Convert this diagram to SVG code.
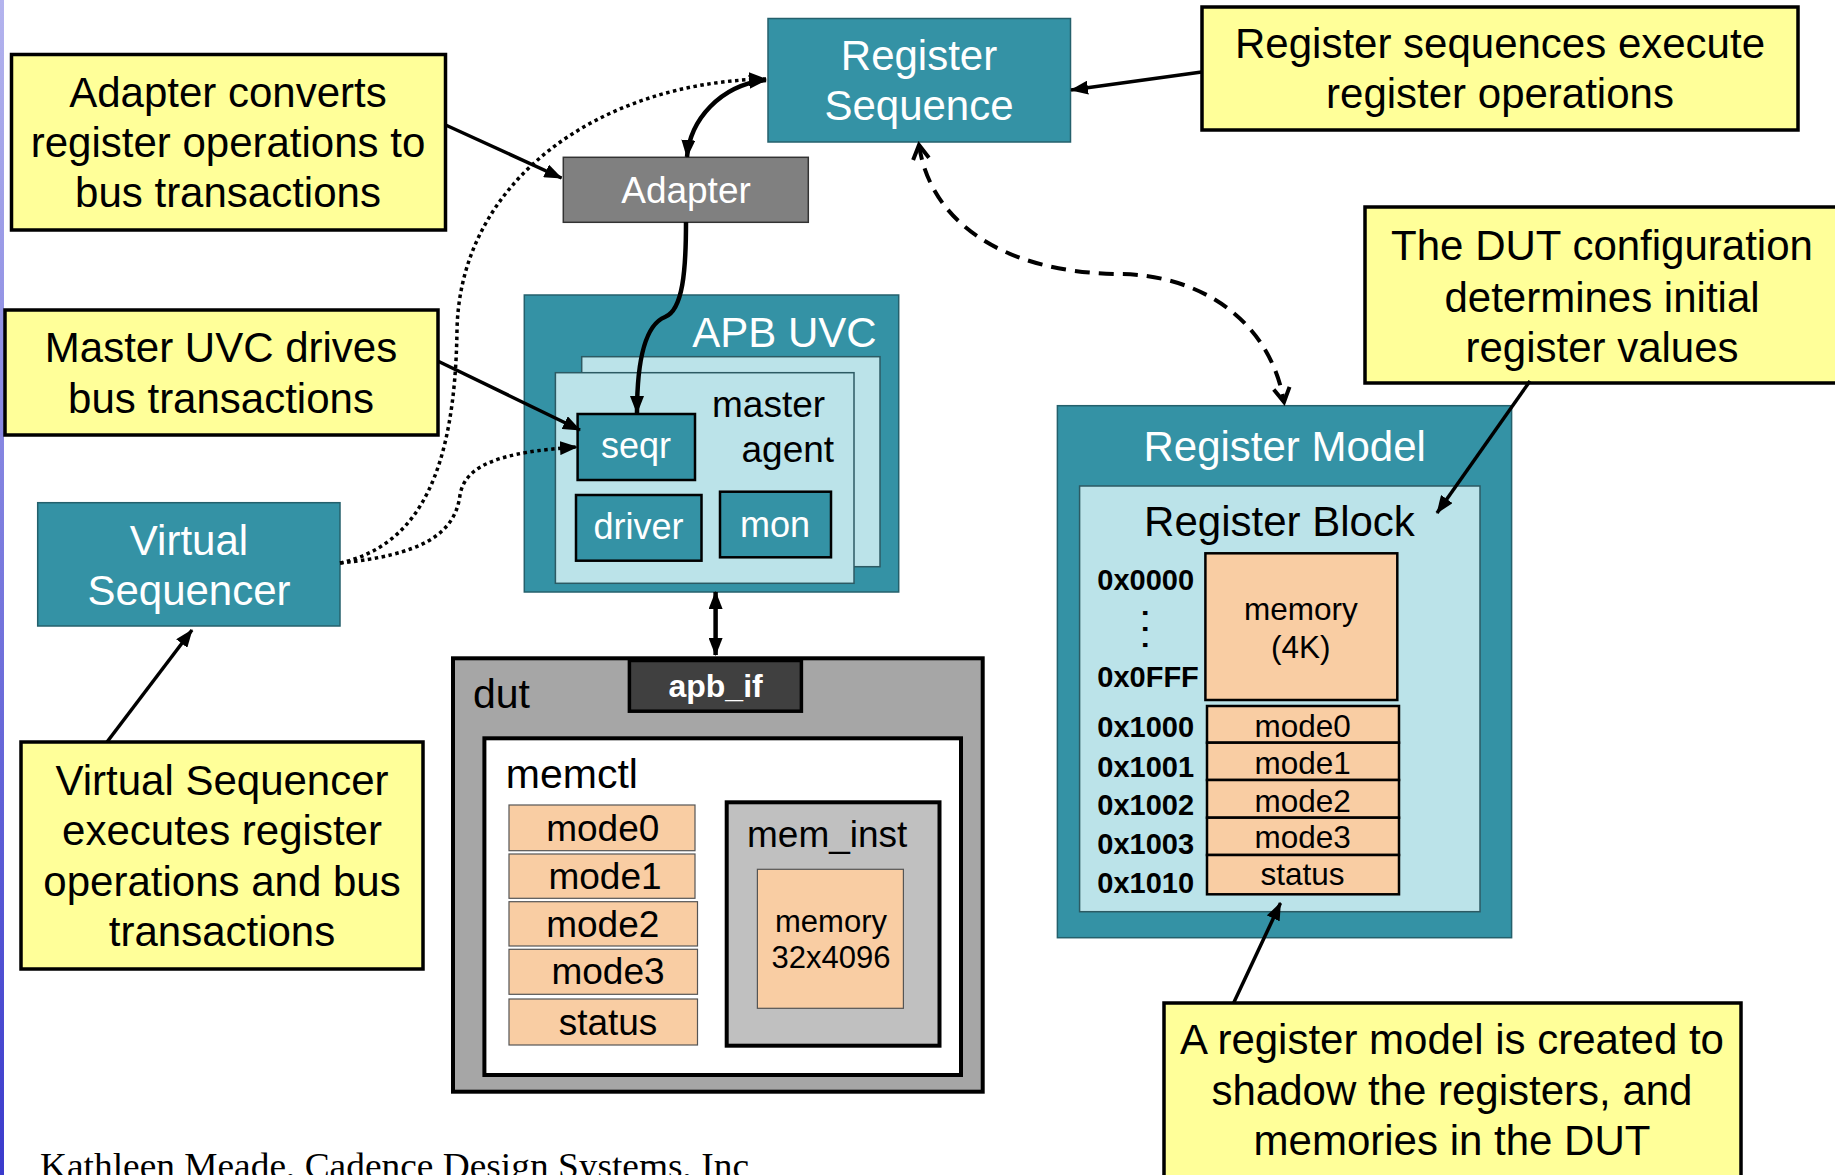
<svg xmlns="http://www.w3.org/2000/svg" width="1835" height="1175" viewBox="0 0 1835 1175">
  <defs>
    <linearGradient id="edgeBar" x1="0" y1="0" x2="0" y2="1">
      <stop offset="0" stop-color="#b4b4ee"/>
      <stop offset="1" stop-color="#3a3acc"/>
    </linearGradient>
    <marker id="arrowSolid" viewBox="0 0 18 14" refX="17" refY="7" markerWidth="18" markerHeight="14" markerUnits="userSpaceOnUse" orient="auto-start-reverse">
      <path d="M0,0 L18,7 L0,14 z" fill="#000"/>
    </marker>
    <marker id="arrowOpen" viewBox="-3 -3 22 24" refX="14" refY="8" markerWidth="22" markerHeight="24" markerUnits="userSpaceOnUse" orient="auto-start-reverse">
      <path d="M0,0 L14,8 L0,16" fill="none" stroke="#000" stroke-width="4" stroke-linejoin="miter"/>
    </marker>
    <style>
      text { font-family: "Liberation Sans", Arial, sans-serif; }
      .callout rect { fill: #ffff99; stroke: #000; stroke-width: 3.5; }
      .callout text { font-size: 42px; fill: #000; text-anchor: middle; }
      .teal { fill: #3492a5; stroke: #24606c; stroke-width: 1.5; }
      .light { fill: #bbe3e9; stroke: #2c5a63; stroke-width: 1.5; }
      .sub { fill: #3492a5; stroke: #000; stroke-width: 2.5; }
      .peach { fill: #f9cda3; stroke: #000; stroke-width: 2.5; }
      .peachThin { fill: #f9cda3; stroke: #555; stroke-width: 1.2; }
      .w42 { font-size: 42px; fill: #fff; text-anchor: middle; }
      .w36 { font-size: 36px; fill: #fff; text-anchor: middle; }
      .b37 { font-size: 37px; fill: #000; }
      .b41 { font-size: 41px; fill: #000; }
      .reg { font-size: 31.5px; fill: #000; text-anchor: middle; }
      .addr { font-size: 29px; font-weight: bold; fill: #000; }
      .conn { fill: none; stroke: #000; }
      .pointer { stroke-width: 3.5; marker-end: url(#arrowSolid); }
      .thick { stroke-width: 4.5; }
      .dotted { stroke-width: 3.5; stroke-dasharray: 3.5 3.5; marker-end: url(#arrowSolid); }
      .dashed { stroke-width: 4; stroke-dasharray: 15 9; marker-start: url(#arrowOpen); marker-end: url(#arrowOpen); }
    </style>
  </defs>

  <rect x="0" y="0" width="1835" height="1175" fill="#fff"/>
  <rect x="0" y="0" width="4" height="1175" fill="url(#edgeBar)"/>

  <!-- explanatory callouts -->
  <g id="note-adapter" class="callout">
    <rect x="11.5" y="54.5" width="434" height="175.5"/>
    <text x="228" y="107">Adapter converts</text>
    <text x="228" y="157">register operations to</text>
    <text x="228" y="207">bus transactions</text>
  </g>
  <g id="note-master-uvc" class="callout">
    <rect x="5" y="310" width="433" height="125"/>
    <text x="221" y="362">Master UVC drives</text>
    <text x="221" y="413">bus transactions</text>
  </g>
  <g id="note-virtual-sequencer" class="callout">
    <rect x="21" y="742" width="402" height="227"/>
    <text x="222" y="795">Virtual Sequencer</text>
    <text x="222" y="845">executes register</text>
    <text x="222" y="896">operations and bus</text>
    <text x="222" y="946">transactions</text>
  </g>
  <g id="note-register-sequences" class="callout">
    <rect x="1202" y="7" width="596" height="123"/>
    <text x="1500" y="58">Register sequences execute</text>
    <text x="1500" y="108">register operations</text>
  </g>
  <g id="note-dut-config" class="callout">
    <rect x="1365" y="207" width="520" height="176"/>
    <text x="1602" y="260">The DUT configuration</text>
    <text x="1602" y="312">determines initial</text>
    <text x="1602" y="362">register values</text>
  </g>
  <g id="note-register-model" class="callout">
    <rect x="1164" y="1003" width="577" height="220"/>
    <text x="1452" y="1054">A register model is created to</text>
    <text x="1452" y="1105">shadow the registers, and</text>
    <text x="1452" y="1155">memories in the DUT</text>
  </g>

  <!-- testbench components -->
  <g id="register-sequence">
    <rect class="teal" x="768" y="18.5" width="302.5" height="123.5"/>
    <text class="w42" x="919" y="70">Register</text>
    <text class="w42" x="919" y="120">Sequence</text>
  </g>
  <g id="adapter">
    <rect x="563.3" y="157.3" width="245" height="65" fill="#808080" stroke="#333" stroke-width="1.5"/>
    <text x="686" y="202.7" font-size="37" fill="#fff" text-anchor="middle">Adapter</text>
  </g>
  <g id="virtual-sequencer">
    <rect class="teal" x="37.7" y="502.7" width="302.3" height="123.3"/>
    <text class="w42" x="189" y="555">Virtual</text>
    <text class="w42" x="189" y="605">Sequencer</text>
  </g>
  <g id="apb-uvc">
    <rect class="teal" x="524.3" y="295" width="374.4" height="297"/>
    <text x="876.6" y="346.7" font-size="42" fill="#fff" text-anchor="end">APB UVC</text>
    <rect class="light" x="581.7" y="356.7" width="298.3" height="210"/>
    <g id="master-agent">
      <rect class="light" x="555.4" y="372.7" width="298.6" height="210.6"/>
      <text class="b37" x="712" y="416.7">master</text>
      <text class="b37" x="741.5" y="461.7">agent</text>
      <g id="seqr">
        <rect class="sub" x="577.6" y="414" width="117.4" height="66"/>
        <text class="w36" x="636" y="458">seqr</text>
      </g>
      <g id="driver">
        <rect class="sub" x="576" y="495" width="125.5" height="65.7"/>
        <text class="w36" x="638.6" y="539.3">driver</text>
      </g>
      <g id="mon">
        <rect class="sub" x="720" y="491.7" width="111" height="65.6"/>
        <text class="w36" x="775" y="536.7">mon</text>
      </g>
    </g>
  </g>

  <!-- design under test -->
  <g id="dut">
    <rect x="453" y="658.3" width="529.7" height="433.4" fill="#a6a6a6" stroke="#000" stroke-width="4"/>
    <text class="b41" x="473" y="708.3">dut</text>
    <g id="apb-if">
      <rect x="629.4" y="660.5" width="172" height="50.7" fill="#404040" stroke="#000" stroke-width="3.5"/>
      <text x="715.6" y="696.7" font-size="32" font-weight="bold" fill="#fff" text-anchor="middle">apb_if</text>
    </g>
    <g id="memctl">
      <rect x="484.4" y="738.3" width="476.6" height="336.7" fill="#fff" stroke="#000" stroke-width="4"/>
      <text class="b41" x="505.8" y="788.3">memctl</text>
      <rect class="peachThin" x="509" y="805" width="186" height="45.7"/>
      <text class="b37" x="602.8" y="841" text-anchor="middle">mode0</text>
      <rect class="peachThin" x="509" y="854" width="186" height="44.3"/>
      <text class="b37" x="605" y="889" text-anchor="middle">mode1</text>
      <rect class="peachThin" x="509" y="901.7" width="188.5" height="44.3"/>
      <text class="b37" x="602.8" y="936.7" text-anchor="middle">mode2</text>
      <rect class="peachThin" x="509" y="949.3" width="188.5" height="45"/>
      <text class="b37" x="608" y="984.3" text-anchor="middle">mode3</text>
      <rect class="peachThin" x="509" y="999" width="188.5" height="46"/>
      <text class="b37" x="608" y="1035" text-anchor="middle">status</text>
      <g id="mem-inst">
        <rect x="726.7" y="802.3" width="212.8" height="243.4" fill="#c0c0c0" stroke="#000" stroke-width="4"/>
        <text class="b37" x="747" y="847.3">mem_inst</text>
        <rect class="peachThin" x="757.4" y="869.3" width="146" height="139"/>
        <text x="831" y="931.7" font-size="31" text-anchor="middle">memory</text>
        <text x="831" y="968.3" font-size="31" text-anchor="middle">32x4096</text>
      </g>
    </g>
  </g>

  <!-- register model -->
  <g id="register-model">
    <rect class="teal" x="1057.4" y="405.7" width="454.2" height="532"/>
    <text class="w42" x="1284.7" y="461">Register Model</text>
    <g id="register-block">
      <rect class="light" x="1079.6" y="486" width="400.4" height="425.7"/>
      <text x="1279.5" y="536" font-size="42" fill="#000" text-anchor="middle">Register Block</text>
      <rect class="peach" x="1205.4" y="553.3" width="191.9" height="146.7" stroke-width="3"/>
      <text class="reg" x="1300.8" y="620">memory</text>
      <text class="reg" x="1300.8" y="658.3">(4K)</text>
      <text class="addr" x="1097.3" y="590">0x0000</text>
      <!-- vertical ellipsis between the memory bounds -->
      <text class="addr" transform="translate(1142.7,609) rotate(90)" letter-spacing="8">...</text>
      <text class="addr" x="1097.3" y="686.7">0x0FFF</text>
      <rect class="peach" x="1207" y="706" width="192" height="36.7"/>
      <text class="reg" x="1302.6" y="736.7">mode0</text>
      <rect class="peach" x="1207" y="742.7" width="192" height="37.3"/>
      <text class="reg" x="1302.6" y="774.3">mode1</text>
      <rect class="peach" x="1207" y="780" width="192" height="37.7"/>
      <text class="reg" x="1302.6" y="811.7">mode2</text>
      <rect class="peach" x="1207" y="817.7" width="192" height="37.3"/>
      <text class="reg" x="1302.6" y="848.3">mode3</text>
      <rect class="peach" x="1207" y="855" width="192" height="39.3"/>
      <text class="reg" x="1302.6" y="885">status</text>
      <text class="addr" x="1097.3" y="736.7">0x1000</text>
      <text class="addr" x="1097.3" y="776.7">0x1001</text>
      <text class="addr" x="1097.3" y="815">0x1002</text>
      <text class="addr" x="1097.3" y="854">0x1003</text>
      <text class="addr" x="1097.3" y="893.3">0x1010</text>
    </g>
  </g>

  <!-- connectors -->
  <g id="connectors">
    <line class="conn pointer" x1="445.6" y1="125" x2="561.5" y2="178"/>
    <line class="conn pointer" x1="437.7" y1="361" x2="580" y2="430"/>
    <line class="conn pointer" x1="107" y1="742" x2="192" y2="630"/>
    <line class="conn pointer" x1="1201.7" y1="72" x2="1071" y2="90"/>
    <line class="conn pointer" x1="1530" y1="381" x2="1437" y2="513"/>
    <line class="conn pointer" x1="1233.6" y1="1003" x2="1280.5" y2="903"/>
    <path class="conn thick" d="M766,80 C720,85 690,120 687,157" marker-start="url(#arrowSolid)" marker-end="url(#arrowSolid)"/>
    <path class="conn thick" d="M686,222 C686,270 683,310 665,317 C645,325 637,360 637,413" marker-end="url(#arrowSolid)"/>
    <path class="conn dotted" d="M340,563 C420,545 455,470 457,330 C460,180 600,82 766,79"/>
    <path class="conn dotted" d="M340,563 C420,555 455,535 460,495 C465,465 500,452 577,447"/>
    <path class="conn dashed" d="M919,145 C930,220 1000,272 1117,274 C1200,274 1270,320 1284,402"/>
    <path class="conn thick" d="M715.6,592 L715.6,655" marker-start="url(#arrowSolid)" marker-end="url(#arrowSolid)"/>
  </g>

  <text x="40" y="1178" font-size="36" textLength="709" lengthAdjust="spacingAndGlyphs" style="font-family: 'Liberation Serif', 'Times New Roman', serif;">Kathleen Meade, Cadence Design Systems, Inc</text>
</svg>
